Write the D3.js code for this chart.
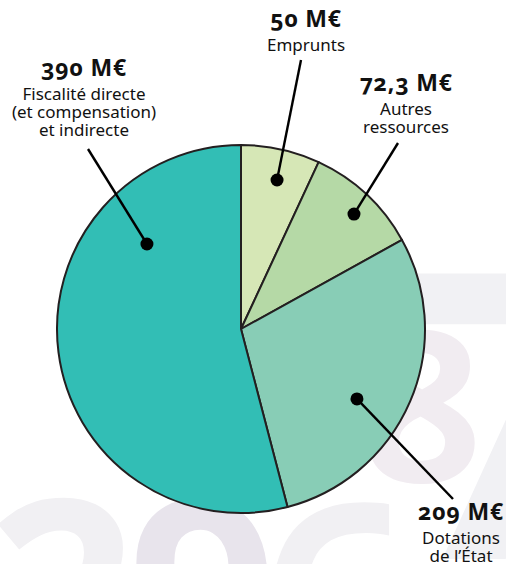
<!DOCTYPE html>
<html>
<head>
<meta charset="utf-8">
<script src="https://cdn.jsdelivr.net/npm/d3@7"></script>
<style>
  html, body { margin: 0; padding: 0; background: #fff; }
  svg { display: block; }
  text { font-family: "Noto Sans", "Open Sans", sans-serif; font-feature-settings: "onum"; }
</style>
</head>
<body>
<svg id="chart" width="506" height="564"></svg>
<script>
// Data
const categories = ["Emprunts", "Autres ressources", "Dotations de l’État", "Fiscalité directe (et compensation) et indirecte"];
const values = [50, 72.3, 209, 390];
const valueLabels = ["50 M€", "72,3 M€", "209 M€", "390 M€"];
const labelLines = [
    ["Emprunts"],
    ["Autres", "ressources"],
    ["Dotations", "de l’État"],
    ["Fiscalité directe", "(et compensation)", "et indirecte"]
];
const colors = ["#d6e7b6", "#b5d9a6", "#88cdb6", "#32beb5"];

// Callout layout: dot (angle in degrees, fraction of radius), line end, text anchor
const callouts = [
    { dotAngle: 13.6, dotR: 0.833, lineEnd: [301, 60], textX: 306, textY: 27 },
    { dotAngle: 44.5, dotR: 0.876, lineEnd: [398, 143], textX: 406, textY: 91 },
    { dotAngle: 121.1, dotR: 0.736, lineEnd: [453, 499], textX: 461, textY: 520 },
    { dotAngle: 312.1, dotR: 0.689, lineEnd: [88, 149], textX: 84, textY: 76 }
];

const svg = d3.select("#chart");
const cx = 241, cy = 329, radius = 184;

// Faint background numerals
const bg = svg.append("g").attr("class", "watermark");
const marks = [
    { t: "7", x: 398, y: 559, size: 400, fill: "#f1f1f4" },
    { t: "8", x: 362, y: 482, size: 210, fill: "#f1ecf1" },
    { t: "2", x: -12, y: 686, size: 260, fill: "#f1f0f3" },
    { t: "9", x: 128, y: 686, size: 260, fill: "#e8e4ec" },
    { t: "6", x: 262, y: 690, size: 260, fill: "#f1f0f3" }
];
bg.selectAll("text")
    .data(marks)
    .enter().append("text")
    .attr("x", d => d.x)
    .attr("y", d => d.y)
    .style("font-size", d => d.size + "px")
    .style("font-weight", "bold")
    .style("font-family", "'Open Sans', sans-serif")
    .style("font-feature-settings", "normal")
    .attr("fill", d => d.fill)
    .text(d => d.t);

// Pie
const pie = d3.pie().sort(null).value(d => d);
const arc = d3.arc().innerRadius(0).outerRadius(radius);

const g = svg.append("g").attr("transform", `translate(${cx},${cy})`);

g.selectAll("path")
    .data(pie(values))
    .enter().append("path")
    .attr("d", arc)
    .attr("fill", (d, i) => colors[i])
    .attr("stroke", "#231f20")
    .attr("stroke-width", 2)
    .attr("stroke-linejoin", "round");

// Leader lines, dots and labels
callouts.forEach((c, i) => {
    const p = d3.pointRadial(c.dotAngle * Math.PI / 180, c.dotR * radius);
    const dot = [cx + p[0], cy + p[1]];

    svg.append("line")
        .attr("x1", dot[0]).attr("y1", dot[1])
        .attr("x2", c.lineEnd[0]).attr("y2", c.lineEnd[1])
        .attr("stroke", "#000")
        .attr("stroke-width", 2.4);

    svg.append("circle")
        .attr("cx", dot[0]).attr("cy", dot[1])
        .attr("r", 6.5)
        .attr("fill", "#000");

    const label = svg.append("g").attr("text-anchor", "middle");
    label.append("text")
        .attr("x", c.textX)
        .attr("y", c.textY)
        .style("font-size", "23px")
        .style("font-weight", "bold")
        .style("letter-spacing", "0.8px")
        .attr("fill", "#111")
        .text(valueLabels[i]);

    labelLines[i].forEach((line, j) => {
        label.append("text")
            .attr("x", c.textX)
            .attr("y", c.textY + 23.5 + j * 18)
            .style("font-size", "17px")
            .attr("fill", "#111")
            .text(line);
    });
});
</script>
</body>
</html>
